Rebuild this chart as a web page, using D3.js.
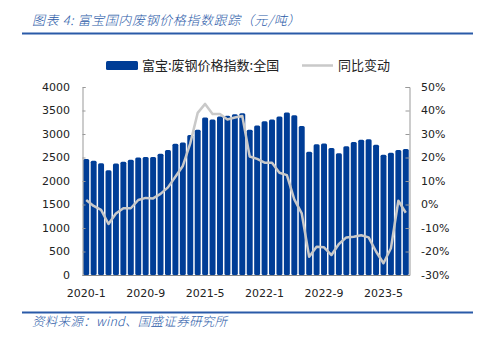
<!DOCTYPE html>
<html><head><meta charset="utf-8">
<script src="https://cdn.jsdelivr.net/npm/d3@7"></script>
<style>
html,body{margin:0;padding:0;background:#fff;}
svg{display:block;}
</style></head>
<body>
<script>
const months = [];
for (let y = 2020; y <= 2023; y++) for (let m = 1; m <= 12; m++) { if (y === 2023 && m > 8) break; months.push(y + "-" + m); }
const indexValues = [2470,2430,2380,2230,2370,2410,2450,2500,2510,2510,2580,2660,
  2790,2820,2980,3090,3350,3310,3370,3390,3420,3440,3090,3180,
  3270,3310,3370,3460,3400,3170,2620,2780,2800,2700,2590,2740,
  2830,2880,2890,2770,2560,2600,2660,2680];
const yoyValues = [1.9,-0.6,-2.3,-8.3,-3.8,-1.6,-1.6,1.9,2.8,2.6,4.5,7.3,
  11.8,16.4,26,39,42.8,38.5,38.5,36.2,37,37.7,20.4,19.4,
  17.8,17.8,13.5,12.5,2.2,-3.8,-22.2,-18,-18.2,-21.5,-16.8,-14,
  -13.7,-13.1,-14,-20,-25,-18.6,1.6,-3.5];
const leftTicks = [0,500,1000,1500,2000,2500,3000,3500,4000];
const rightTicks = [-30,-20,-10,0,10,20,30,40,50];
const xTickLabels = ["2020-1","2020-9","2021-5","2022-1","2022-9","2023-5"];
const seriesNames = ["富宝:废钢价格指数:全国","同比变动"];

const W = 479, H = 338;
const m = {left: 82.5, right: 69.5, top: 87, bottom: 63};
const svg = d3.select("body").append("svg").attr("width", W).attr("height", H);
const blue = "#003d96", gray = "#c9c9c9", titleBlue = "#2a5aa8";
const font = "'DejaVu Sans', Verdana, sans-serif";
const cjk = "'Noto Sans CJK SC', sans-serif";

// title
svg.append("text").attr("x", 32).attr("y", 25).attr("fill", titleBlue)
  .attr("font-family", cjk).attr("font-size", 13).attr("font-style", "italic").attr("font-weight", 300)
  .attr("letter-spacing", 0.6)
  .text("图表 4:  富宝国内废钢价格指数跟踪（元/吨）");
svg.append("line").attr("x1", 22).attr("x2", 473).attr("y1", 33.5).attr("y2", 33.5)
  .attr("stroke", titleBlue).attr("stroke-width", 2);
svg.append("line").attr("x1", 22).attr("x2", 473).attr("y1", 312.5).attr("y2", 312.5)
  .attr("stroke", titleBlue).attr("stroke-width", 2);
svg.append("text").attr("x", 32).attr("y", 326).attr("fill", titleBlue)
  .attr("font-family", cjk).attr("font-size", 12.5).attr("font-style", "italic").attr("font-weight", 300)
  .attr("letter-spacing", 0.3)
  .text("资料来源：wind、国盛证券研究所");

const x = d3.scaleBand().domain(months).range([m.left, W - m.right]).paddingInner(0.2).paddingOuter(0.1);
const yL = d3.scaleLinear().domain([0, 4000]).range([H - m.bottom, m.top]);
const yR = d3.scaleLinear().domain([-30, 50]).range([H - m.bottom, m.top]);

// bars
svg.append("g").selectAll("rect").data(indexValues).join("rect")
  .attr("x", (d, i) => x(months[i])).attr("width", x.bandwidth())
  .attr("y", d => yL(d)).attr("height", d => yL(0) - yL(d))
  .attr("rx", 1.5)
  .attr("fill", blue);

// axes
const axL = svg.append("g").attr("transform", `translate(${m.left},0)`)
  .call(d3.axisRight(yL).tickValues(leftTicks).tickSize(3).tickFormat(""));
axL.select(".domain").attr("stroke", "#999");
axL.selectAll(".tick line").attr("stroke", "#999");
svg.append("g").selectAll("text").data(leftTicks).join("text")
  .attr("x", 70).attr("y", d => yL(d)).attr("dy", "0.36em").attr("text-anchor", "end")
  .attr("font-family", font).attr("font-size", 11).attr("fill", "#222").text(d => d);

const axR = svg.append("g").attr("transform", `translate(${W - m.right},0)`)
  .call(d3.axisLeft(yR).tickValues(rightTicks).tickSize(4).tickFormat(""));
axR.select(".domain").attr("stroke", "#999");
axR.selectAll(".tick line").attr("stroke", "#999");
svg.append("g").selectAll("text").data(rightTicks).join("text")
  .attr("x", 421).attr("y", d => yR(d)).attr("dy", "0.36em").attr("text-anchor", "start")
  .attr("font-family", font).attr("font-size", 11).attr("fill", "#222").text(d => d + "%");

svg.append("line").attr("x1", m.left).attr("x2", W - m.right)
  .attr("y1", yL(0) + 0.5).attr("y2", yL(0) + 0.5).attr("stroke", "#888");

// x labels
svg.append("g").selectAll("text").data(xTickLabels).join("text")
  .attr("x", d => x(d) + x.bandwidth() / 2).attr("y", 297).attr("text-anchor", "middle")
  .attr("font-family", font).attr("font-size", 11).attr("fill", "#222").text(d => d);

// line
const line = d3.line().x((d, i) => x(months[i]) + x.bandwidth() / 2).y(d => yR(d));
svg.append("path").datum(yoyValues).attr("d", line).attr("fill", "none")
  .attr("stroke", gray).attr("stroke-width", 2.5).attr("stroke-linejoin", "round");

// legend
svg.append("rect").attr("x", 106).attr("y", 61).attr("width", 32).attr("height", 9).attr("rx", 1.5).attr("fill", blue);
svg.append("text").attr("x", 142).attr("y", 70).attr("font-family", cjk).attr("font-size", 13).attr("fill", "#222").text(seriesNames[0]);
svg.append("line").attr("x1", 302).attr("x2", 333).attr("y1", 65.5).attr("y2", 65.5).attr("stroke", gray).attr("stroke-width", 2.5);
svg.append("text").attr("x", 338).attr("y", 70).attr("font-family", cjk).attr("font-size", 13).attr("fill", "#222").text(seriesNames[1]);
</script>
</body></html>
